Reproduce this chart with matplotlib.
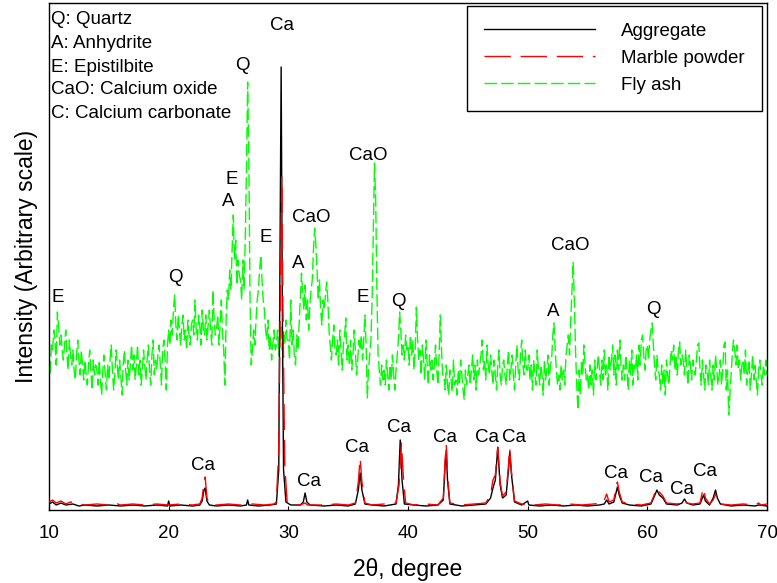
import numpy as np
import matplotlib
matplotlib.use("Agg")
import matplotlib.pyplot as plt

plt.rcParams['font.family'] = ['Liberation Sans', 'DejaVu Sans']

# Aggregate (black) - breakpoints
agg_x = [10.0, 10.3, 10.6, 11.0, 11.4, 12.0, 12.5, 13.0, 14.0, 15.0, 16.0, 17.0, 18.0, 19.0,
         19.9, 20.0, 20.1, 21.0, 22.0, 22.6, 22.8, 22.95, 23.05, 23.2, 23.4, 24.0, 25.0, 26.0,
         26.5, 26.6, 26.7, 27.5, 28.5, 29.0, 29.2, 29.3, 29.4, 29.5, 29.6, 29.8, 30.2, 31.0,
         31.25, 31.4, 31.55, 31.8, 33.0, 34.0, 35.0, 35.6, 35.85, 36.0, 36.15, 36.4, 37.0, 38.0,
         39.0, 39.2, 39.35, 39.5, 39.7, 40.5, 41.5, 42.5, 42.95, 43.1, 43.2, 43.3, 43.5, 44.5,
         45.5, 46.5, 46.9, 47.1, 47.3, 47.5, 47.7, 47.9, 48.2, 48.4, 48.5, 48.65, 48.9, 49.5,
         50.0, 50.1, 51.0, 52.0, 53.0, 54.0, 55.0, 56.0, 56.4, 56.6, 56.8, 57.2, 57.4, 57.5,
         57.65, 57.9, 58.5, 59.5, 60.3, 60.6, 60.8, 61.0, 61.3, 61.6, 62.5, 62.9, 63.1, 63.3,
         63.8, 64.4, 64.6, 64.7, 64.85, 65.2, 65.5, 65.7, 65.85, 66.1, 67.0, 68.0, 69.0, 69.3,
         70.0]
agg_y = [6, 8, 5, 7, 5, 6, 4, 5, 4, 5, 4, 5, 4, 5,
         4, 9, 4, 5, 4, 5, 9, 20, 22, 9, 5, 4, 5, 4,
         5, 10, 5, 4, 5, 6, 40, 250, 443, 200, 40, 8, 5, 5,
         8, 17, 8, 5, 4, 5, 4, 6, 20, 37, 20, 6, 5, 4,
         6, 25, 70, 30, 6, 5, 4, 5, 10, 45, 60, 30, 6, 4,
         5, 6, 12, 22, 30, 62, 25, 12, 15, 40, 58, 35, 8, 5,
         9, 5, 4, 5, 4, 5, 4, 5, 6, 10, 6, 8, 18, 23,
         15, 7, 5, 4, 6, 14, 20, 15, 12, 6, 5, 7, 11, 7,
         5, 6, 12, 15, 9, 5, 12, 20, 12, 6, 4, 5, 4, 5,
         4]

# Marble powder (red)
mp_x = [10.0, 10.3, 10.6, 11.0, 11.4, 11.8, 12.5, 13.0, 14.0, 15.0, 15.5, 16.0, 17.0, 18.0,
        19.0, 20.0, 21.0, 22.0, 22.6, 22.8, 22.95, 23.05, 23.2, 23.4, 24.0, 25.0, 26.0, 27.0,
        28.0, 28.8, 29.0, 29.2, 29.35, 29.45, 29.55, 29.7, 29.9, 30.3, 31.0, 31.4, 31.6, 33.0,
        34.0, 35.0, 35.6, 35.85, 36.0, 36.15, 36.4, 37.0, 38.0, 39.0, 39.25, 39.45, 39.6, 39.8,
        40.5, 41.5, 42.5, 42.95, 43.1, 43.2, 43.3, 43.5, 44.5, 45.5, 46.5, 46.9, 47.1, 47.3,
        47.5, 47.7, 47.9, 48.2, 48.4, 48.5, 48.65, 48.9, 49.5, 50.5, 51.5, 52.5, 53.5, 54.5,
        55.5, 56.3, 56.6, 56.8, 57.2, 57.4, 57.5, 57.65, 57.9, 58.5, 59.5, 60.3, 60.6, 60.8,
        61.0, 61.3, 61.6, 62.5, 62.9, 63.1, 63.3, 63.8, 64.4, 64.6, 64.7, 64.85, 65.2, 65.5,
        65.7, 65.85, 66.1, 67.0, 68.0, 69.0, 69.3, 69.5, 70.0]
mp_y = [8, 10, 7, 9, 6, 8, 6, 5, 6, 5, 7, 5, 6, 5,
        6, 5, 6, 5, 6, 12, 28, 33, 12, 6, 5, 6, 5, 6,
        5, 6, 8, 60, 230, 333, 200, 45, 8, 6, 5, 7, 5, 5,
        6, 5, 7, 28, 52, 28, 7, 5, 6, 7, 25, 67, 35, 7,
        5, 6, 5, 12, 50, 65, 35, 7, 5, 6, 7, 15, 30, 35,
        63, 28, 14, 18, 45, 62, 38, 9, 6, 5, 6, 5, 6, 5,
        6, 7, 16, 8, 10, 24, 28, 18, 8, 6, 5, 7, 16, 22,
        18, 14, 7, 6, 8, 11, 7, 6, 7, 18, 22, 12, 6, 10,
        16, 10, 6, 5, 6, 5, 7, 5, 6]

# Fly ash (green), one value every 0.1 degree from 10 to 70
fly_ash = [
    150, 135, 165, 160, 180, 170, 145, 198, 185, 165,   # 10
    175, 160, 150, 165, 180, 155, 140, 170, 155, 145,   # 11
    160, 140, 130, 155, 170, 150, 135, 160, 145, 130,   # 12
    150, 135, 125, 145, 160, 140, 120, 150, 135, 145,   # 13
    140, 125, 150, 130, 115, 140, 155, 135, 120, 145,   # 14
    130, 150, 165, 140, 120, 135, 160, 145, 130, 150,   # 15
    135, 115, 145, 160, 140, 125, 150, 130, 145, 165,   # 16
    140, 155, 130, 145, 165, 135, 150, 125, 140, 160,   # 17
    145, 130, 150, 165, 140, 125, 155, 170, 135, 150,   # 18
    140, 155, 165, 145, 125, 160, 170, 150, 120, 165,   # 19
    180, 165, 190, 175, 200, 215, 185, 170, 195, 180,   # 20
    165, 185, 195, 170, 180, 160, 190, 175, 165, 185,   # 21
    190, 175, 210, 180, 170, 195, 185, 165, 200, 180,   # 22
    175, 195, 170, 185, 200, 180, 165, 220, 190, 175,   # 23
    180, 195, 165, 185, 210, 175, 160, 125, 190, 220,   # 24
    210, 240, 220, 260, 295, 250, 270, 225, 250, 235,   # 25
    230, 210, 250, 220, 270, 340, 428, 350, 210, 145,   # 26
    160, 180, 165, 190, 210, 220, 240, 255, 230, 210,   # 27
    200, 180, 170, 190, 160, 175, 150, 165, 180, 160,   # 28
    165, 180, 155, 170, 185, 160, 175, 165, 190, 170,   # 29
    170, 150, 210, 165, 180, 155, 145, 175, 160, 185,   # 30
    210, 237, 215, 200, 225, 190, 210, 180, 205, 220,   # 31
    230, 260, 282, 265, 240, 210, 230, 200, 185, 210,   # 32
    200, 215, 228, 210, 180, 165, 150, 170, 185, 160,   # 33
    155, 170, 145, 180, 160, 140, 165, 175, 192, 150,   # 34
    165, 145, 170, 140, 155, 180, 160, 135, 150, 170,   # 35
    160, 175, 150, 170, 195, 165, 112, 140, 155, 170,   # 36
    210, 280, 347, 310, 220, 155, 140, 125, 145, 130,   # 37
    140, 125, 150, 135, 120, 145, 130, 155, 135, 120,   # 38
    140, 155, 170, 198, 180, 155, 165, 150, 175, 160,   # 39
    165, 145, 175, 155, 170, 140, 160, 203, 170, 150,   # 40
    160, 135, 165, 150, 130, 170, 145, 125, 155, 140,   # 41
    150, 130, 145, 165, 140, 125, 155, 195, 160, 135,   # 42
    135, 120, 145, 125, 115, 140, 130, 118, 150, 125,   # 43
    130, 115, 140, 125, 150, 135, 120, 110, 140, 125,   # 44
    135, 145, 125, 140, 155, 130, 145, 120, 150, 135,   # 45
    145, 155, 170, 140, 150, 130, 165, 145, 135, 155,   # 46
    140, 125, 150, 135, 120, 145, 160, 135, 125, 145,   # 47
    150, 135, 125, 145, 160, 130, 140, 155, 135, 120,   # 48
    145, 165, 140, 130, 155, 170, 145, 135, 160, 140,   # 49
    140, 155, 130, 145, 120, 150, 135, 125, 160, 140,   # 50
    125, 145, 135, 115, 150, 130, 140, 155, 125, 145,   # 51
    150, 175, 187, 160, 140, 125, 135, 120, 145, 130,   # 52
    140, 125, 155, 165, 175, 155, 190, 220, 248, 210,   # 53
    160, 125, 100, 140, 115, 150, 135, 165, 145, 130,   # 54
    135, 120, 145, 125, 140, 115, 150, 130, 140, 155,   # 55
    140, 125, 150, 130, 160, 135, 145, 120, 155, 140,   # 56
    150, 165, 135, 155, 125, 160, 140, 170, 145, 130,   # 57
    145, 130, 155, 140, 120, 150, 135, 160, 125, 145,   # 58
    140, 155, 130, 165, 145, 170, 175, 155, 140, 160,   # 59
    165, 150, 170, 180, 187, 165, 145, 130, 155, 140,   # 60
    135, 120, 145, 125, 140, 115, 150, 135, 125, 145,   # 61
    160, 150, 165, 140, 155, 135, 160, 168, 145, 155,   # 62
    150, 135, 160, 140, 125, 155, 145, 130, 150, 140,   # 63
    135, 150, 165, 167, 140, 125, 150, 135, 120, 145,   # 64
    140, 125, 150, 135, 120, 145, 130, 155, 140, 125,   # 65
    135, 150, 125, 140, 165, 168, 120, 140, 95, 115,    # 66
    135, 155, 170, 160, 145, 165, 140, 150, 130, 145,   # 67
    150, 135, 160, 125, 140, 150, 120, 135, 155, 130,   # 68
    145, 130, 115, 140, 150, 135, 125, 145, 135, 150,   # 69
    135,                                                # 70
]
fa_x = np.linspace(10, 70, len(fly_ash))

# peak labels
ca_labels = [(22.9, 45), (29.5, 485), (31.7, 29), (35.75, 63), (39.25, 82), (43.1, 73),
             (46.6, 73), (48.85, 73), (57.35, 37), (60.3, 32), (62.9, 20), (64.85, 38)]
fa_labels = [("E", 10.75, 212), ("Q", 20.6, 233), ("Q", 26.2, 445), ("E", 25.25, 330),
             ("A", 25.0, 308), ("E", 28.1, 272), ("A", 30.85, 247), ("CaO", 31.9, 293),
             ("CaO", 36.7, 355), ("E", 36.2, 212), ("Q", 39.2, 209), ("A", 52.1, 198),
             ("CaO", 53.6, 264), ("Q", 60.5, 200)]
key_lines = ["Q: Quartz", "A: Anhydrite", "E: Epistilbite", "CaO: Calcium oxide",
             "C: Calcium carbonate"]
key_y = [491, 467, 443, 420, 396]

fig = plt.figure(figsize=(7.77, 5.83), dpi=100)
ax = fig.add_axes([49 / 777, 73 / 583, 718 / 777, 507 / 583])

ax.plot(agg_x, agg_y, color="black", lw=1.0, label="Aggregate", zorder=2)
ax.plot(mp_x, mp_y, color="red", lw=1.0, dashes=(19, 7), label="Marble powder", zorder=3)
ax.plot(fa_x, fly_ash, color="#00ff00", lw=1.0, dashes=(9, 3), label="Fly ash", zorder=1)

for x, y in ca_labels:
    ax.text(x, y, "Ca", ha="center", va="center", fontsize=13.5)
for s, x, y in fa_labels:
    ax.text(x, y, s, ha="center", va="center", fontsize=13.5)
for s, y in zip(key_lines, key_y):
    ax.text(10.2, y, s, ha="left", va="center", fontsize=13.5)

ax.set_xlim(10, 70)
ax.set_ylim(0, 507)
ax.set_xticks([10, 20, 30, 40, 50, 60, 70])
ax.set_yticks([])
ax.tick_params(axis="x", direction="in", length=3, labelsize=13.5, pad=11)
for sp in ax.spines.values():
    sp.set_linewidth(1.0)

ax.set_xlabel("2θ, degree", fontsize=16.5, labelpad=11)
ax.set_ylabel("Intensity (Arbitrary scale)", fontsize=16.5, labelpad=8)

leg = ax.legend(loc="upper right", bbox_to_anchor=(0.9925, 0.994), fontsize=13.5,
                handlelength=5.9, handletextpad=1.4, labelspacing=0.52,
                borderpad=0.9, borderaxespad=0, fancybox=False, framealpha=1)
leg.get_frame().set_edgecolor("black")
leg.get_frame().set_linewidth(1.0)

fig.savefig("out.png", dpi=100)
